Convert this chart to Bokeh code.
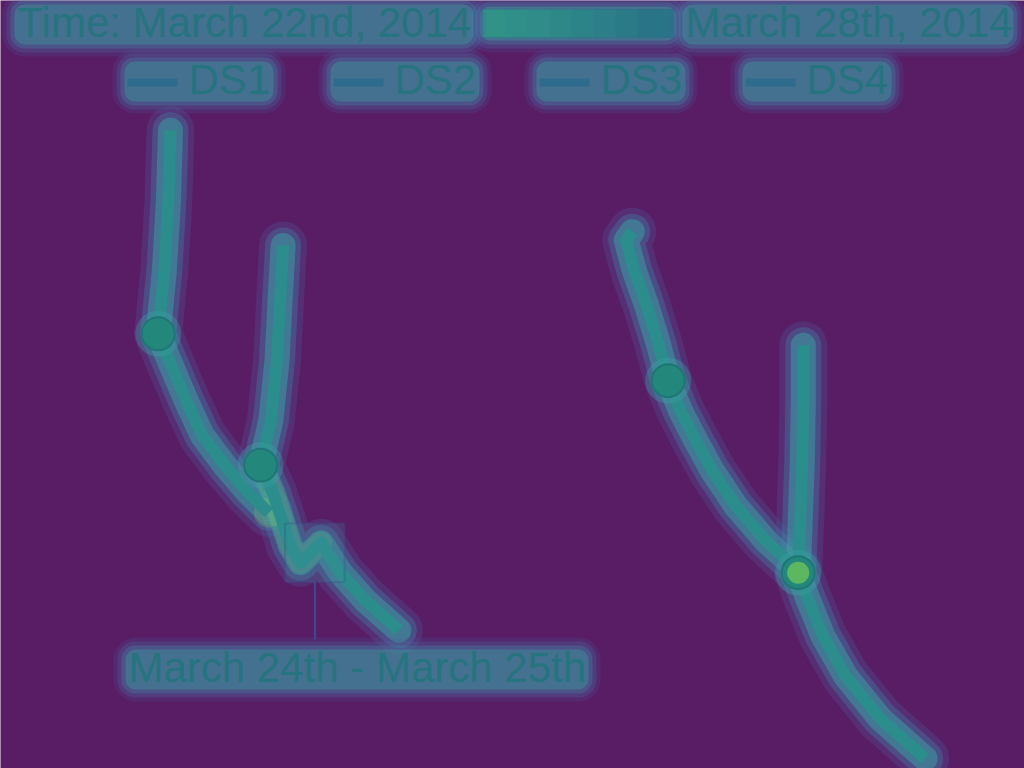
from bokeh.plotting import figure
from bokeh.models import Range1d, Label, BoxAnnotation
from bokeh.embed import file_html
from bokeh.resources import INLINE

# --- data -------------------------------------------------------------
series_names = ["DS1", "DS2", "DS3", "DS4"]

ds1_x = [16.6, 16.4, 16.0, 15.4, 16.8, 18.2, 19.7, 22.0, 24.2, 26.2]
ds1_y = [83.1, 74.0, 64.8, 56.6, 52.1, 47.7, 43.4, 39.3, 35.9, 33.3]

ds2_x = [27.6, 27.3, 27.0, 26.4, 25.4, 26.6, 27.5, 28.3, 29.3, 31.3, 33.2, 35.6, 38.9]
ds2_y = [68.1, 60.9, 53.1, 45.3, 39.5, 35.9, 32.3, 29.0, 26.8, 29.4, 25.5, 21.9, 18.0]

ds3_x = [61.7, 61.1, 61.9, 63.1, 64.2, 65.2, 66.4, 67.9, 69.5, 71.8, 74.7, 77.9]
ds3_y = [69.9, 68.8, 64.8, 60.3, 55.5, 50.5, 46.6, 42.7, 38.8, 34.2, 29.7, 25.8]

ds4_x = [78.4, 78.4, 78.3, 78.1, 77.9, 78.9, 80.3, 82.5, 85.9, 90.3]
ds4_y = [55.1, 47.9, 40.1, 32.3, 25.5, 21.9, 17.3, 12.1, 6.5, 1.3]

marker_idx = [3, 4, 5, 4]

time_start = "Time: March 22nd, 2014"
time_end = "March 28th, 2014"
note_text = "March 24th - March 25th"
note_idx = [8, 9]   # DS2 points inside the noted period

# --- style ------------------------------------------------------------
W, H = 1024, 768
BG = "#581d64"
CORE = "#2b8d8c"
TEXT = "#25747f"
FONT = "Liberation Sans"
FS = "42px"
BASE_FIX = 16  # svg alphabetic baseline sits lower than asked

p = figure(width=W, height=H, x_range=Range1d(0, 100), y_range=Range1d(0, 100),
           x_axis_location=None, y_axis_location=None, min_border=0,
           toolbar_location=None, output_backend="svg",
           background_fill_color=BG, border_fill_color=BG, outline_line_color=None)
p.grid.visible = False

xs = [ds1_x, ds2_x, ds3_x, ds4_x]
ys = [ds1_y, ds2_y, ds3_y, ds4_y]

glow = [(48, "#4a62a0", 0.25), (36, "#3f88a8", 0.35), (25, "#3aa3a2", 0.5)]
for x, y in zip(xs, ys):
    for w, c, a in glow:
        p.line(x, y, line_width=w, line_color=c, line_alpha=a,
               line_cap="round", line_join="round")

# warmer glow where the first two tracks meet
p.line(ds2_x[4:10], ds2_y[4:10], line_width=22, line_color="#74cc5c", line_alpha=0.16,
       line_cap="round", line_join="round")
p.scatter([ds1_x[-1]], [ds1_y[-1]], size=30, fill_color="#86d45a", fill_alpha=0.22,
          line_color=None)

for x, y in zip(xs, ys):
    p.line(x, y, line_width=12, line_color=CORE, line_join="round")

mx = [x[i] for x, i in zip(xs, marker_idx)]
my = [y[i] for y, i in zip(ys, marker_idx)]
p.scatter(mx, my, size=46, fill_color="#3aa3a2", fill_alpha=0.35, line_color=None)
p.scatter(mx, my, size=33, fill_color="#23877c", line_color="#1f7676", line_width=2)
p.scatter([mx[3]], [my[3]], size=22, fill_color="#66bf5c", fill_alpha=0.85, line_color=None)


def sbox(left, right, top, bottom, **kw):
    # box in page pixels (top-left origin)
    p.add_layout(BoxAnnotation(left=left, right=right, bottom=H - bottom, top=H - top,
                               left_units="screen", right_units="screen",
                               bottom_units="screen", top_units="screen", **kw))


def haze(left, right, top, bottom):
    for pad, c, a, rad in [(15, "#4d5a9c", 0.2, 22), (11, "#4672a4", 0.25, 18),
                           (7, "#3f8ca6", 0.3, 14), (3, "#3aa09e", 0.4, 10)]:
        sbox(left - pad, right + pad, top - pad, bottom + pad, fill_color=c, fill_alpha=a,
             line_color=None, border_radius=rad)


def glow_text(x, base, text, width, with_haze=True):
    if with_haze:
        haze(x, x + width, base - 31, base + 3)
    p.add_layout(Label(x=x, y=H - base + BASE_FIX, x_units="screen", y_units="screen",
                       text=text, text_font=FONT, text_font_size=FS,
                       text_baseline="alphabetic", text_color=TEXT))


# time slider header
haze(482, 673, 9, 37)
sbox(482, 673, 9, 37, fill_color="#2a7488", fill_alpha=1, line_color="#2a6680", line_width=1)
for k in range(7):
    sbox(482, 505 + k * 22, 9, 37, fill_color="#36ae8c", fill_alpha=0.1, line_color=None)
glow_text(17, 38, time_start, 453)
glow_text(685, 38, time_end, 325)

# legend
for i, name in enumerate(series_names):
    gx = 127 + i * 206
    haze(gx, gx + 143, 64, 98)
    sbox(gx, gx + 50, 78, 86, fill_color="#2f6b8c", fill_alpha=1, line_color=None)
    glow_text(gx + 61, 95, name, 82, with_haze=False)

# period note
cx = sum(ds2_x[i] for i in note_idx) / len(note_idx) + 0.4
cy = sum(ds2_y[i] for i in note_idx) / len(note_idx)
p.add_layout(BoxAnnotation(left=cx - 2.9, right=cx + 2.9, bottom=cy - 3.8, top=cy + 3.8,
                           fill_color="#3c94a2", fill_alpha=0.2, line_color="#34508c",
                           line_width=2))
p.segment([cx], [cy - 3.8], [cx], [cy - 11.3], line_color="#34508c", line_width=2)
glow_text(128, 683, note_text, 457)

open("out.html", "w").write(file_html(p, INLINE))
